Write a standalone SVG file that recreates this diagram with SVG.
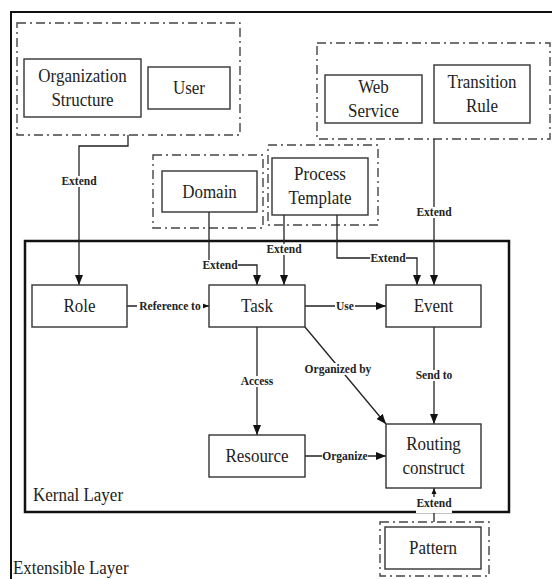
<svg xmlns="http://www.w3.org/2000/svg" width="552" height="579" viewBox="0 0 552 579" font-family="'Liberation Serif', 'Times New Roman', 'DejaVu Serif', serif">
<style>
.box{fill:#fff;stroke:#333;stroke-width:1.4}
.grp{fill:none;stroke:#444;stroke-width:1.4;stroke-dasharray:9 4 2 4}
text{font-family:'Liberation Serif','Times New Roman','DejaVu Serif',serif}
.t{font-size:17px;fill:#222;text-anchor:middle}
.ly{font-size:17px;fill:#222}
.l{font-size:11.5px;font-weight:bold;fill:#222;text-anchor:middle}
.c{fill:none;stroke:#222;stroke-width:1.3}
.bg{fill:#fff}
</style>
<defs>
<marker id="a" markerUnits="userSpaceOnUse" markerWidth="10" markerHeight="8" refX="10" refY="4" orient="auto">
<path d="M0,0 L10,4 L0,8 z" fill="#111"/>
</marker>
<marker id="s" markerUnits="userSpaceOnUse" markerWidth="6" markerHeight="6" refX="6" refY="3" orient="auto">
<path d="M0,0.5 L6,3 L0,5.5 z" fill="#111"/>
</marker>
</defs>
<rect width="552" height="579" fill="#fff"/>
<g id="extensible-layer">
<path d="M11,580 V12 H553" fill="none" stroke="#111" stroke-width="2"/>
<text class="ly" transform="translate(13,574) scale(1,1.12)">Extensible Layer</text>
</g>
<g id="kernal-layer">
<rect x="25" y="241" width="484" height="271" fill="none" stroke="#111" stroke-width="2.5"/>
<text class="ly" transform="translate(33,501) scale(1,1.12)">Kernal Layer</text>
</g>
<g id="groups">
<rect class="grp" x="17" y="23" width="223" height="112"/>
<rect class="grp" x="153" y="155" width="110" height="73"/>
<rect class="grp" x="268" y="145" width="110" height="80"/>
<rect class="grp" x="317" y="43" width="233" height="96"/>
<rect class="grp" x="380" y="522" width="109" height="54"/>
</g>
<g id="connectors">
<polyline class="c" points="128,135 128,146 79,146 79,285" marker-end="url(#a)"/>
<polyline class="c" points="209,212 209,265 257,265 257,285" marker-end="url(#a)"/>
<polyline class="c" points="284,215 284,285" marker-end="url(#a)"/>
<polyline class="c" points="337,215 337,258 417,258 417,285" marker-end="url(#a)"/>
<polyline class="c" points="434,139 434,285" marker-end="url(#a)"/>
<polyline class="c" points="127,306 209,306" marker-end="url(#a)"/>
<polyline class="c" points="305,306 386,306" marker-end="url(#a)"/>
<polyline class="c" points="305,327 386,424" marker-end="url(#a)"/>
<polyline class="c" points="257,327 257,435" marker-end="url(#a)"/>
<polyline class="c" points="434,327 434,424" marker-end="url(#a)"/>
<polyline class="c" points="305,456 386,456" marker-end="url(#a)"/>
<polyline class="c" points="434,522 434,488" marker-end="url(#s)"/>
<g id="labels">
<rect class="bg" x="61" y="176" width="36" height="11"/><text class="l" x="79" y="185">Extend</text>
<rect class="bg" x="202" y="260" width="36" height="11"/><text class="l" x="220" y="269">Extend</text>
<rect class="bg" x="266" y="244" width="36" height="11"/><text class="l" x="284" y="253">Extend</text>
<rect class="bg" x="370" y="253" width="36" height="11"/><text class="l" x="388" y="262">Extend</text>
<rect class="bg" x="416" y="207" width="36" height="11"/><text class="l" x="434" y="216">Extend</text>
<rect class="bg" x="137" y="301" width="66" height="11"/><text class="l" x="170" y="310">Reference to</text>
<rect class="bg" x="335" y="301" width="20" height="11"/><text class="l" x="345" y="310">Use</text>
<rect class="bg" x="303" y="363" width="70" height="12"/><text class="l" x="338" y="373">Organized by</text>
<rect class="bg" x="239" y="376" width="36" height="11"/><text class="l" x="257" y="385">Access</text>
<rect class="bg" x="414" y="370" width="40" height="11"/><text class="l" x="434" y="379">Send to</text>
<rect class="bg" x="322" y="451" width="46" height="11"/><text class="l" x="345" y="460">Organize</text>
<rect class="bg" x="416" y="497" width="36" height="16"/><text class="l" x="434" y="507">Extend</text>
</g>
</g>
<g id="org-structure"><rect class="box" x="24" y="59" width="117" height="58"/><text class="t" transform="translate(82.5,82) scale(1,1.15)">Organization</text><text class="t" transform="translate(82.5,106) scale(1,1.15)">Structure</text></g>
<g id="user"><rect class="box" x="148" y="67" width="82" height="42"/><text class="t" transform="translate(189,94) scale(1,1.15)">User</text></g>
<g id="web-service"><rect class="box" x="325" y="75" width="97" height="48"/><text class="t" transform="translate(373.5,93) scale(1,1.15)">Web</text><text class="t" transform="translate(373.5,117) scale(1,1.15)">Service</text></g>
<g id="transition-rule"><rect class="box" x="434" y="65" width="96" height="58"/><text class="t" transform="translate(482,88) scale(1,1.15)">Transition</text><text class="t" transform="translate(482,112) scale(1,1.15)">Rule</text></g>
<g id="domain"><rect class="box" x="162" y="171" width="95" height="41"/><text class="t" transform="translate(209.5,198) scale(1,1.15)">Domain</text></g>
<g id="process-template"><rect class="box" x="272" y="158" width="96" height="57"/><text class="t" transform="translate(320,180) scale(1,1.15)">Process</text><text class="t" transform="translate(320,204) scale(1,1.15)">Template</text></g>
<g id="role"><rect class="box" x="32" y="285" width="95" height="42"/><text class="t" transform="translate(79.5,312) scale(1,1.15)">Role</text></g>
<g id="task"><rect class="box" x="209" y="285" width="96" height="42"/><text class="t" transform="translate(257,312) scale(1,1.15)">Task</text></g>
<g id="event"><rect class="box" x="386" y="285" width="95" height="42"/><text class="t" transform="translate(433.5,312) scale(1,1.15)">Event</text></g>
<g id="resource"><rect class="box" x="209" y="435" width="96" height="42"/><text class="t" transform="translate(257,462) scale(1,1.15)">Resource</text></g>
<g id="routing-construct"><rect class="box" x="386" y="424" width="95" height="64"/><text class="t" transform="translate(433.5,450) scale(1,1.15)">Routing</text><text class="t" transform="translate(433.5,474) scale(1,1.15)">construct</text></g>
<g id="pattern"><rect class="box" x="385" y="527" width="96" height="42"/><text class="t" transform="translate(433,554) scale(1,1.15)">Pattern</text></g>
</svg>
